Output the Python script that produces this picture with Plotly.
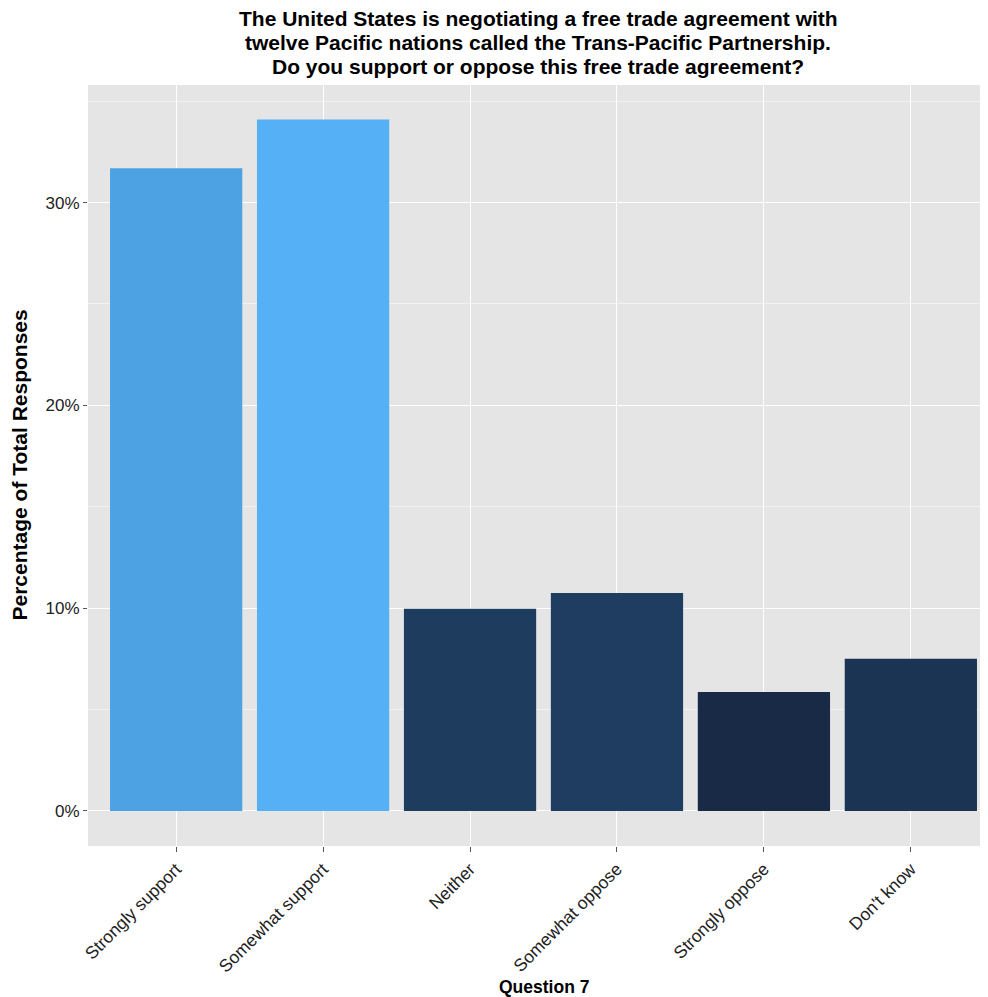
import plotly.graph_objects as go

categories = ["Strongly support", "Somewhat support", "Neither",
              "Somewhat oppose", "Strongly oppose", "Don't know"]
values = [0.317, 0.341, 0.0997, 0.1075, 0.0587, 0.075]
bar_colors = ["#4CA2E2", "#55B0F6", "#1E3D5E", "#1E3D60", "#182A45", "#1B3454"]
y_tickvals = [0, 0.1, 0.2, 0.3]
y_ticktext = ["0%", "10%", "20%", "30%"]

title_lines = ["The United States is negotiating a free trade agreement with",
               "twelve Pacific nations called the Trans-Pacific Partnership.",
               "Do you support or oppose this free trade agreement?"]

fig = go.Figure(go.Bar(
    x=categories, y=values, marker_color=bar_colors,
    marker_line_width=0, width=0.9,
))

font_family = "Liberation Sans, Arial, sans-serif"

annotations = []
for i, line in enumerate(title_lines):
    annotations.append(dict(
        text="<b>" + line + "</b>", xref="paper", yref="paper",
        x=0.5, y=1, xanchor="center", yanchor="middle",
        yshift=67 - 24 * i, showarrow=False,
        font=dict(size=21, color="#000")))

annotations += [
    dict(text="<b>Percentage of Total Responses</b>", xref="paper", yref="paper",
         x=0, y=0.5, xanchor="center", yanchor="middle", xshift=-69,
         textangle=-90, showarrow=False, font=dict(size=21, color="#000")),
    dict(text="<b>Question 7</b>", xref="paper", yref="paper",
         x=0.5, y=0, xanchor="center", yanchor="middle", yshift=-141, xshift=6,
         showarrow=False, font=dict(size=17.5, color="#000")),
]

# page has an 8px body margin: figure drawn at (8, 8)
fig.update_layout(
    width=980, height=989,
    paper_bgcolor="white", plot_bgcolor="#E5E5E5",
    margin=dict(l=80, r=0, t=77, b=151),
    font=dict(family=font_family, color="#1a1a1a"),
    showlegend=False,
    annotations=annotations,
)

fig.update_xaxes(
    range=[-0.6, 5.525], showgrid=True, gridcolor="white", gridwidth=1.2,
    ticks="outside", ticklen=5, tickcolor="#555", tickwidth=1,
    tickangle=-45, tickfont=dict(size=17.5, color="#222"),
    zeroline=False, showline=False,
)

fig.update_yaxes(
    range=[-0.0173, 0.358], tickvals=y_tickvals, ticktext=y_ticktext,
    showgrid=True, gridcolor="white", gridwidth=1.2,
    minor=dict(dtick=0.05, tick0=0, showgrid=True, gridcolor="#F2F2F2", gridwidth=0.6, ticks=""),
    ticks="outside", ticklen=4, tickcolor="#555", tickwidth=1,
    tickfont=dict(size=17, color="#222"),
    zeroline=False, showline=False,
)

fig.write_html("out.html")
